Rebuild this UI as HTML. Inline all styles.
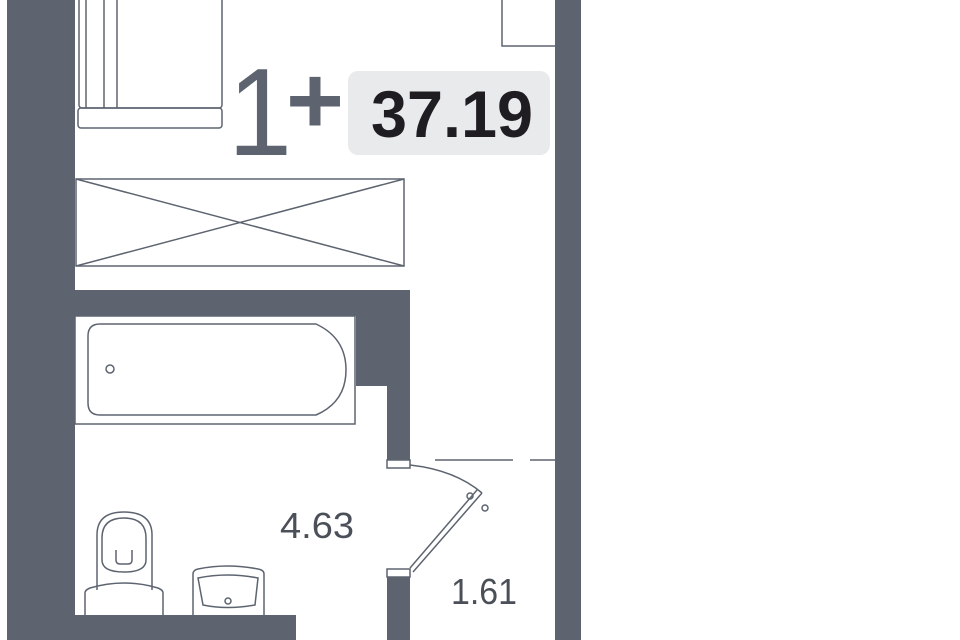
<!DOCTYPE html>
<html><head><style>
html,body{margin:0;padding:0;background:#fff;width:960px;height:640px;overflow:hidden}
svg{display:block}
text{font-family:"Liberation Sans",sans-serif}
</style></head><body>
<svg width="960" height="640" viewBox="0 0 960 640" xmlns="http://www.w3.org/2000/svg">
<g fill="#5d6470">
<rect x="7" y="0" width="68" height="640"/>
<rect x="555" y="0" width="26" height="640"/>
<rect x="75" y="290" width="335" height="26"/>
<rect x="356" y="316" width="54" height="70"/>
<rect x="387" y="386" width="23" height="74"/>
<rect x="387" y="577" width="23" height="63"/>
<rect x="75" y="615" width="221" height="25"/>
</g>
<g fill="none" stroke="#5d6470" stroke-width="1.5">
<rect x="387" y="460" width="23" height="8" fill="#fff"/>
<rect x="387" y="569" width="23" height="8" fill="#fff"/>
<rect x="79" y="-5" width="143" height="113" rx="3"/>
<line x1="86" y1="0" x2="86" y2="108"/>
<line x1="104" y1="0" x2="104" y2="108"/>
<line x1="117" y1="0" x2="117" y2="108"/>
<rect x="78" y="108" width="144" height="20" rx="3"/>
<polyline points="502,0 502,46 555,46"/>
<rect x="76" y="179" width="328" height="87"/>
<line x1="76" y1="179" x2="404" y2="266"/>
<line x1="404" y1="179" x2="76" y2="266"/>
<rect x="75" y="316" width="280" height="108"/>
<path d="M100,324 H316 Q346,338 346,370 Q346,402 316,415 H100 Q88,415 88,403 V336 Q88,324 100,324 Z"/>
<circle cx="110" cy="369" r="4"/>
<path d="M410,465 Q455,470 482,493"/>
<line x1="482" y1="493" x2="413" y2="572"/>
<line x1="477" y1="490" x2="410" y2="568"/>
<circle cx="470" cy="496" r="3"/>
<circle cx="485" cy="508" r="3"/>
<line x1="435" y1="460" x2="513" y2="460"/>
<line x1="530" y1="460" x2="555" y2="460"/>
<path d="M97,590 V535 Q97,512 124,512 Q152,512 152,535 V590"/>
<path d="M102,560 V538 Q102,518 124,518 Q146,518 146,538 V560 Q146,572 124,572 Q102,572 102,560Z"/>
<path d="M116,550 V560 Q116,564 120,564 H128 Q132,564 132,560 V550"/>
<path d="M85,615 V593 Q85,590 90,588 Q124,578 158,588 Q163,590 163,593 V615"/>
<path d="M193,615 V574 Q193,570 198,569 Q227,563 258,569 Q264,570 264,574 V615"/>
<path d="M198,578 Q227,572 258,578 L255,605 Q227,610 203,605 Z"/>
<circle cx="228" cy="601" r="3"/>
</g>
<rect x="348" y="71" width="202" height="84" rx="10" fill="#e9eaec"/>
<text x="228" y="155" font-size="124" fill="#5d6470" textLength="64" lengthAdjust="spacingAndGlyphs">1</text>
<text x="286" y="133" font-size="96" font-weight="bold" fill="#5d6470" textLength="58" lengthAdjust="spacingAndGlyphs">+</text>
<text x="371" y="137" font-size="66" font-weight="bold" fill="#1f1d22" textLength="162" lengthAdjust="spacingAndGlyphs">37.19</text>
<text x="280" y="538" font-size="36" fill="#4a4f58" textLength="74" lengthAdjust="spacingAndGlyphs">4.63</text>
<text x="451" y="604" font-size="36" fill="#4a4f58" textLength="66" lengthAdjust="spacingAndGlyphs">1.61</text>
</svg>
</body></html>
